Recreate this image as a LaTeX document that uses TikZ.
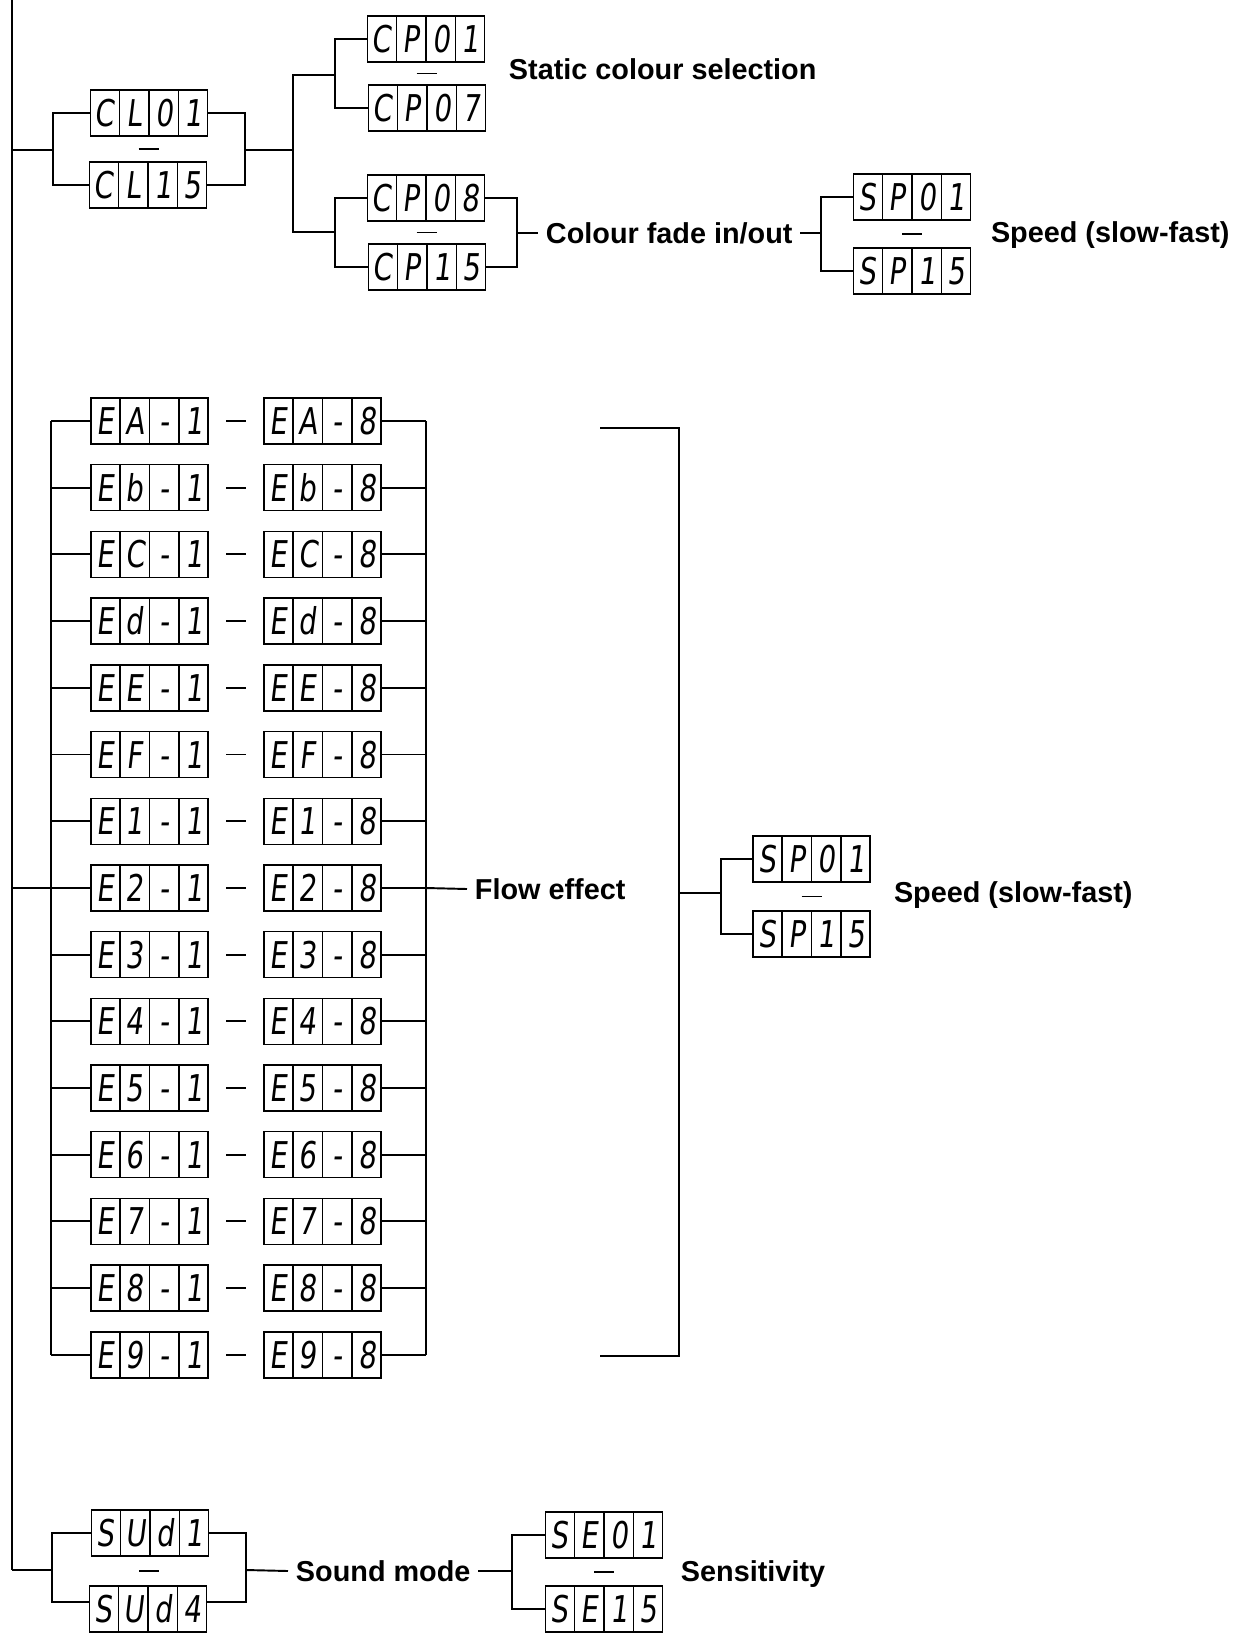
\documentclass[tikz,border=0pt]{standalone}
\usepackage{fontspec}
\setmainfont{Liberation Sans}
\newfontfamily\segfont[FakeSlant=0.12,FakeStretch=0.75]{DejaVu Sans}
\usetikzlibrary{shapes.multipart,calc}

% one cell of a four digit display
\newcommand{\seg}[1]{\makebox[0.565cm]{\rule[-0.46cm]{0pt}{0.92cm}\raisebox{-0.27cm}{#1}}}
\newcommand{\digs}[4]{\seg{#1}\nodepart{two}\seg{#2}\nodepart{three}\seg{#3}\nodepart{four}\seg{#4}}

\begin{document}
\begin{tikzpicture}[x=0.02cm, y=-0.02cm, line width=1.1pt,
  disp/.style={draw, line width=0.8pt, rectangle split, rectangle split horizontal,
    rectangle split parts=4, inner sep=0pt, font=\segfont\fontsize{21}{21}\selectfont},
  lbl/.style={anchor=west, inner xsep=4pt, inner ysep=0pt, text height=11.7pt, text depth=0pt,
    font=\fontsize{16.4}{19}\selectfont\bfseries},
  bar/.style={line width=1.1pt}]
  \useasboundingbox (0,0) rectangle (1246,1634);

  \coordinate (top) at (12,0);
  \coordinate (cl) at (12,150);
  \coordinate (fl) at (12,888);
  \coordinate (sd) at (12,1570);
  \draw (top) -- (sd);

  % colour
  \node[disp] (cla) at (149,113) {\digs{C}{L}{0}{1}};
  \node[disp] (clb) at (148,185) {\digs{C}{L}{1}{5}};
  \draw[bar] ($(cla.south)!0.5!(clb.north)$) +(-10,0) -- +(10,0);
  \coordinate (clL) at (53,150);
  \coordinate (clR) at (245,150);
  \coordinate (cpS) at (293,150);
  \draw (cl) -- (clL);
  \draw (cla.west) -| (clL) |- (clb.west);
  \draw (cla.east) -| (clR) |- (clb.east);
  \draw (clR) -- (cpS);

  \node[disp] (cpa) at (426,39) {\digs{C}{P}{0}{1}};
  \node[disp] (cpb) at (427,108) {\digs{C}{P}{0}{7}};
  \node[disp] (cpc) at (426,198) {\digs{C}{P}{0}{8}};
  \node[disp] (cpd) at (427,267) {\digs{C}{P}{1}{5}};
  \draw[bar] ($(cpa.south)!0.5!(cpb.north)$) +(-10,0) -- +(10,0);
  \draw[bar] ($(cpc.south)!0.5!(cpd.north)$) +(-10,0) -- +(10,0);
  \coordinate (stL) at (335,75);
  \coordinate (fdL) at (335,232);
  \draw (stL) -| (cpS) |- (fdL);
  \draw (cpa.west) -| (stL) |- (cpb.west);
  \draw (cpc.west) -| (fdL) |- (cpd.west);
  \node[lbl] (static) at (501,69) {Static colour selection};

  \coordinate (fdR) at (517,233);
  \coordinate (spL) at (821,233);
  \draw (cpc.east) -| (fdR) |- (cpd.east);
  \node[lbl] (fade) at (538,233) {Colour fade in/out};
  \draw (fdR) -- (fade.west);
  \draw (fade.east) -- (spL);
  \node[disp] (spa) at (912,197) {\digs{S}{P}{0}{1}};
  \node[disp] (spb) at (912,271) {\digs{S}{P}{1}{5}};
  \draw[bar] ($(spa.south)!0.5!(spb.north)$) +(-10,0) -- +(10,0);
  \draw (spa.west) -| (spL) |- (spb.west);
  \node[lbl] (speeda) at (983,232) {Speed (slow-fast)};

  % flow effects
  \coordinate (fxL) at (51,888);
  \coordinate (fxR) at (426,888);
  \foreach \c [count=\i from 0] in {A,b,C,d,E,F,1,2,3,4,5,6,7,8,9}{
    \node[disp] (ea\i) at (149.5,{421+66.7*\i}) {\digs{E}{\c}{-}{1}};
    \node[disp] (eb\i) at (322.5,{421+66.7*\i}) {\digs{E}{\c}{-}{8}};
    \draw[bar] ($(ea\i.east)!0.5!(eb\i.west)$) +(-10,0) -- +(10,0);
    \draw (ea\i.west) -- (ea\i.west -| fxL);
    \draw (eb\i.east) -- (eb\i.east -| fxR);
  }
  \draw (ea0.west -| fxL) -- (ea14.west -| fxL);
  \draw (eb0.east -| fxR) -- (eb14.east -| fxR);
  \draw (fl) -- (fxL);
  \node[lbl] (flow) at (467,889) {Flow effect};
  \draw (fxR) -- (flow.west);

  \coordinate (bgT) at (600,428);
  \coordinate (bgM) at (679,893);
  \coordinate (bgB) at (600,1356);
  \coordinate (smL) at (721,893);
  \draw (bgT) -| (bgM) |- (bgB);
  \draw (bgM) -- (smL);
  \node[disp] (spc) at (811.5,859) {\digs{S}{P}{0}{1}};
  \node[disp] (spd) at (811.5,934) {\digs{S}{P}{1}{5}};
  \draw[bar] ($(spc.south)!0.5!(spd.north)$) +(-10,0) -- +(10,0);
  \draw (spc.west) -| (smL) |- (spd.west);
  \node[lbl] (speedb) at (886,892) {Speed (slow-fast)};

  % sound
  \coordinate (sdL) at (52,1570);
  \coordinate (sdR) at (246,1570);
  \coordinate (seL) at (512,1571);
  \draw (sd) -- (sdL);
  \node[disp] (sda) at (150,1533) {\digs{S}{U}{d}{1}};
  \node[disp] (sdb) at (148,1609) {\digs{S}{U}{d}{4}};
  \draw[bar] ($(sda.south)!0.5!(sdb.north)$) +(-10,0) -- +(10,0);
  \draw (sda.west) -| (sdL) |- ([yshift=0.14cm]sdb.west);
  \draw (sda.east) -| (sdR) |- ([yshift=0.14cm]sdb.east);
  \node[lbl] (sound) at (288,1571) {Sound mode};
  \draw (sdR) -- (sound.west);
  \draw (sound.east) -- (seL);
  \node[disp] (sea) at (604,1535) {\digs{S}{E}{0}{1}};
  \node[disp] (seb) at (604,1609) {\digs{S}{E}{1}{5}};
  \draw[bar] ($(sea.south)!0.5!(seb.north)$) +(-10,0) -- +(10,0);
  \draw (sea.west) -| (seL) |- (seb.west);
  \node[lbl] (sens) at (673,1571) {Sensitivity};
\end{tikzpicture}
\end{document}
